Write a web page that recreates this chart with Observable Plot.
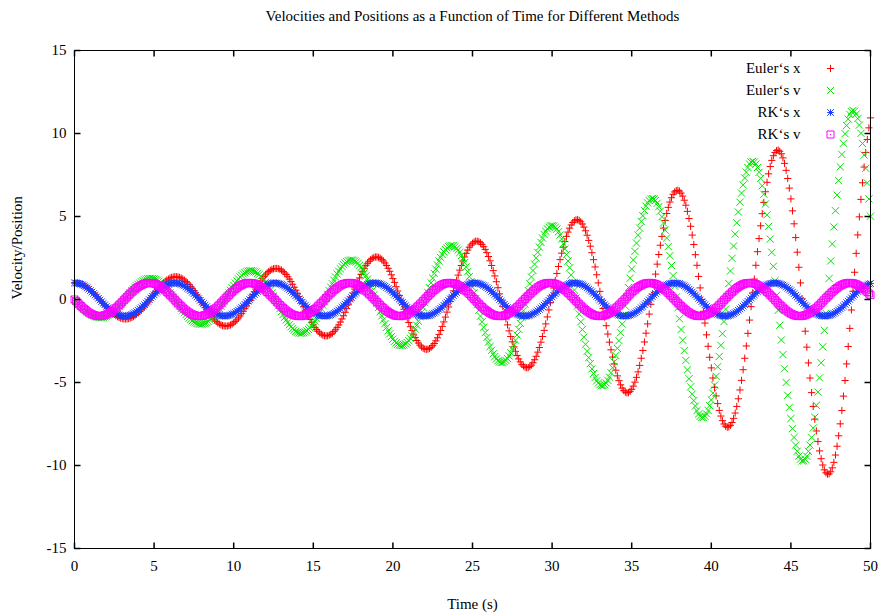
<!DOCTYPE html>
<html>
<head>
<meta charset="utf-8">
<script src="https://cdn.jsdelivr.net/npm/d3@7"></script>
<script src="https://cdn.jsdelivr.net/npm/@observablehq/plot@0.6"></script>
<style>
html, body { margin: 0; padding: 0; background: #ffffff; }
#chart svg { display: block; }
</style>
</head>
<body>
<div id="chart"></div>
<script>
// ---------- text ----------
const chartTitle = "Velocities and Positions as a Function of Time for Different Methods";
const xLabel = "Time (s)";
const yLabel = "Velocity/Position";
const seriesNames = ["Euler‘s x", "Euler‘s v", "RK‘s x", "RK‘s v"];

// ---------- ticks ----------
const xTicks = [0, 5, 10, 15, 20, 25, 30, 35, 40, 45, 50];
const yTicks = [-15, -10, -5, 0, 5, 10, 15];

// ---------- sampling ----------
const timeStep = 0.1; // s, one sample every 0.1 s from t = 0 to t = 50

// ---------- Euler's x ----------
const eulerX = [
1.00, 1.00, 0.99, 0.97, 0.94, 0.90, 0.85, 0.79, 0.73, 0.65,
0.57, 0.48, 0.39, 0.29, 0.19, 0.08, -0.03, -0.13, -0.24, -0.35,
-0.45, -0.55, -0.65, -0.74, -0.83, -0.90, -0.97, -1.03, -1.08, -1.12,
-1.15, -1.17, -1.17, -1.17, -1.15, -1.12, -1.08, -1.03, -0.97, -0.89,
-0.81, -0.72, -0.62, -0.51, -0.40, -0.28, -0.16, -0.04, 0.09, 0.22,
0.34, 0.47, 0.59, 0.70, 0.81, 0.92, 1.01, 1.10, 1.17, 1.23,
1.29, 1.33, 1.35, 1.37, 1.37, 1.36, 1.33, 1.29, 1.24, 1.17,
1.09, 1.00, 0.90, 0.79, 0.67, 0.54, 0.40, 0.26, 0.12, -0.03,
-0.18, -0.33, -0.47, -0.61, -0.75, -0.88, -1.01, -1.12, -1.23, -1.32,
-1.41, -1.48, -1.53, -1.57, -1.59, -1.60, -1.60, -1.57, -1.53, -1.48,
-1.41, -1.32, -1.23, -1.11, -0.99, -0.85, -0.71, -0.55, -0.39, -0.23,
-0.06, 0.12, 0.29, 0.46, 0.63, 0.80, 0.96, 1.11, 1.25, 1.38,
1.49, 1.60, 1.69, 1.76, 1.81, 1.85, 1.87, 1.87, 1.86, 1.82,
1.77, 1.69, 1.60, 1.50, 1.37, 1.23, 1.08, 0.92, 0.74, 0.56,
0.37, 0.17, -0.03, -0.24, -0.44, -0.64, -0.83, -1.02, -1.20, -1.37,
-1.53, -1.68, -1.81, -1.92, -2.02, -2.09, -2.15, -2.18, -2.19, -2.19,
-2.15, -2.10, -2.03, -1.93, -1.82, -1.68, -1.53, -1.36, -1.17, -0.98,
-0.77, -0.55, -0.32, -0.08, 0.15, 0.39, 0.63, 0.86, 1.08, 1.30,
1.51, 1.70, 1.88, 2.04, 2.18, 2.30, 2.40, 2.48, 2.53, 2.56,
2.56, 2.54, 2.49, 2.42, 2.32, 2.20, 2.05, 1.88, 1.70, 1.49,
1.26, 1.03, 0.77, 0.51, 0.24, -0.03, -0.31, -0.59, -0.86, -1.13,
-1.39, -1.64, -1.87, -2.09, -2.29, -2.47, -2.62, -2.75, -2.86, -2.94,
-2.98, -3.00, -2.99, -2.95, -2.88, -2.78, -2.65, -2.49, -2.31, -2.10,
-1.87, -1.62, -1.35, -1.06, -0.76, -0.45, -0.13, 0.20, 0.52, 0.84,
1.16, 1.47, 1.77, 2.05, 2.32, 2.56, 2.78, 2.98, 3.15, 3.28,
3.39, 3.47, 3.51, 3.51, 3.48, 3.42, 3.32, 3.18, 3.02, 2.82,
2.59, 2.33, 2.05, 1.74, 1.42, 1.07, 0.71, 0.34, -0.03, -0.41,
-0.79, -1.17, -1.53, -1.89, -2.23, -2.55, -2.85, -3.12, -3.37, -3.58,
-3.76, -3.91, -4.01, -4.08, -4.11, -4.10, -4.04, -3.95, -3.81, -3.63,
-3.42, -3.17, -2.89, -2.57, -2.23, -1.86, -1.47, -1.05, -0.63, -0.19,
0.25, 0.69, 1.14, 1.57, 1.99, 2.40, 2.79, 3.15, 3.49, 3.80,
4.06, 4.30, 4.49, 4.64, 4.74, 4.80, 4.80, 4.77, 4.68, 4.55,
4.36, 4.14, 3.87, 3.56, 3.21, 2.82, 2.40, 1.96, 1.49, 1.00,
0.49, -0.02, -0.54, -1.06, -1.58, -2.08, -2.57, -3.03, -3.47, -3.88,
-4.26, -4.60, -4.89, -5.14, -5.34, -5.49, -5.58, -5.62, -5.61, -5.53,
-5.41, -5.22, -4.98, -4.69, -4.36, -3.97, -3.54, -3.07, -2.56, -2.03,
-1.47, -0.88, -0.29, 0.32, 0.93, 1.53, 2.13, 2.71, 3.27, 3.80,
4.30, 4.76, 5.18, 5.55, 5.87, 6.13, 6.34, 6.48, 6.56, 6.58,
6.53, 6.41, 6.23, 5.98, 5.68, 5.31, 4.88, 4.41, 3.88, 3.31,
2.70, 2.06, 1.39, 0.70, 0.00, -0.71, -1.42, -2.13, -2.82, -3.48,
-4.12, -4.73, -5.29, -5.81, -6.27, -6.68, -7.02, -7.30, -7.50, -7.63,
-7.69, -7.67, -7.58, -7.41, -7.16, -6.84, -6.44, -5.98, -5.45, -4.87,
-4.23, -3.54, -2.80, -2.04, -1.24, -0.43, 0.40, 1.23, 2.06, 2.88,
3.67, 4.44, 5.17, 5.85, 6.49, 7.06, 7.57, 8.01, 8.38, 8.66,
8.86, 8.97, 9.00, 8.93, 8.78, 8.53, 8.20, 7.78, 7.29, 6.71,
6.06, 5.34, 4.56, 3.73, 2.85, 1.94, 1.00, 0.04, -0.94, -1.91,
-2.87, -3.82, -4.73, -5.61, -6.44, -7.21, -7.92, -8.56, -9.12, -9.59,
-9.97, -10.26, -10.44, -10.52, -10.50, -10.38, -10.14, -9.81, -9.37, -8.84,
-8.21, -7.49, -6.69, -5.82, -4.88, -3.88, -2.83, -1.74, -0.63, 0.50,
1.64, 2.78, 3.89, 4.98, 6.03, 7.03, 7.98, 8.85, 9.64, 10.34,
10.94
];

// ---------- Euler's v ----------
const eulerV = [
0.00, -0.10, -0.20, -0.30, -0.40, -0.49, -0.58, -0.67, -0.74, -0.82,
-0.88, -0.94, -0.99, -1.03, -1.06, -1.07, -1.08, -1.08, -1.07, -1.04,
-1.01, -0.96, -0.91, -0.84, -0.77, -0.69, -0.60, -0.50, -0.40, -0.29,
-0.18, -0.06, 0.06, 0.17, 0.29, 0.40, 0.52, 0.62, 0.73, 0.82,
0.91, 0.99, 1.07, 1.13, 1.18, 1.22, 1.25, 1.26, 1.27, 1.26,
1.24, 1.20, 1.16, 1.10, 1.03, 0.94, 0.85, 0.75, 0.64, 0.53,
0.40, 0.27, 0.14, 0.01, -0.13, -0.27, -0.40, -0.54, -0.67, -0.79,
-0.91, -1.02, -1.12, -1.21, -1.28, -1.35, -1.40, -1.44, -1.47, -1.48,
-1.48, -1.46, -1.43, -1.38, -1.32, -1.24, -1.16, -1.06, -0.94, -0.82,
-0.69, -0.55, -0.40, -0.25, -0.09, 0.07, 0.23, 0.39, 0.55, 0.70,
0.85, 0.99, 1.12, 1.24, 1.36, 1.46, 1.54, 1.61, 1.67, 1.71,
1.73, 1.73, 1.72, 1.69, 1.65, 1.58, 1.50, 1.41, 1.30, 1.17,
1.04, 0.89, 0.73, 0.56, 0.38, 0.20, 0.01, -0.17, -0.36, -0.55,
-0.73, -0.90, -1.07, -1.23, -1.38, -1.52, -1.64, -1.75, -1.84, -1.92,
-1.97, -2.01, -2.03, -2.02, -2.00, -1.96, -1.89, -1.81, -1.71, -1.59,
-1.45, -1.30, -1.13, -0.95, -0.76, -0.55, -0.34, -0.13, 0.09, 0.31,
0.53, 0.74, 0.95, 1.15, 1.35, 1.53, 1.70, 1.85, 1.99, 2.10,
2.20, 2.28, 2.33, 2.36, 2.37, 2.36, 2.32, 2.26, 2.17, 2.06,
1.93, 1.78, 1.61, 1.42, 1.22, 1.00, 0.77, 0.53, 0.28, 0.03,
-0.23, -0.48, -0.74, -0.99, -1.23, -1.46, -1.68, -1.89, -2.07, -2.24,
-2.39, -2.52, -2.62, -2.70, -2.75, -2.77, -2.77, -2.74, -2.68, -2.59,
-2.48, -2.34, -2.18, -1.99, -1.78, -1.55, -1.31, -1.04, -0.77, -0.48,
-0.19, 0.11, 0.41, 0.71, 1.00, 1.29, 1.57, 1.83, 2.08, 2.31,
2.53, 2.71, 2.87, 3.01, 3.11, 3.19, 3.23, 3.25, 3.23, 3.18,
3.09, 2.98, 2.83, 2.65, 2.45, 2.22, 1.96, 1.68, 1.38, 1.07,
0.74, 0.40, 0.05, -0.30, -0.65, -1.00, -1.34, -1.67, -1.99, -2.29,
-2.57, -2.83, -3.06, -3.27, -3.44, -3.58, -3.69, -3.76, -3.80, -3.79,
-3.75, -3.67, -3.56, -3.40, -3.21, -2.99, -2.74, -2.45, -2.14, -1.80,
-1.44, -1.07, -0.68, -0.28, 0.13, 0.54, 0.95, 1.36, 1.75, 2.13,
2.50, 2.84, 3.16, 3.44, 3.70, 3.92, 4.11, 4.26, 4.36, 4.43,
4.44, 4.42, 4.35, 4.24, 4.08, 3.88, 3.64, 3.36, 3.04, 2.70,
2.32, 1.91, 1.48, 1.03, 0.57, 0.09, -0.39, -0.87, -1.34, -1.81,
-2.27, -2.70, -3.12, -3.50, -3.86, -4.18, -4.46, -4.70, -4.90, -5.04,
-5.14, -5.19, -5.19, -5.14, -5.03, -4.87, -4.67, -4.41, -4.11, -3.76,
-3.37, -2.94, -2.48, -2.00, -1.48, -0.95, -0.40, 0.16, 0.72, 1.28,
1.84, 2.38, 2.90, 3.40, 3.87, 4.30, 4.70, 5.05, 5.36, 5.62,
5.82, 5.96, 6.05, 6.08, 6.05, 5.96, 5.80, 5.59, 5.32, 4.99,
4.61, 4.18, 3.71, 3.19, 2.64, 2.05, 1.44, 0.80, 0.15, -0.50,
-1.16, -1.81, -2.45, -3.08, -3.67, -4.24, -4.77, -5.26, -5.70, -6.09,
-6.42, -6.69, -6.90, -7.04, -7.11, -7.11, -7.03, -6.89, -6.68, -6.40,
-6.05, -5.64, -5.16, -4.63, -4.05, -3.43, -2.76, -2.06, -1.33, -0.58,
0.19, 0.96, 1.72, 2.48, 3.22, 3.94, 4.62, 5.27, 5.86, 6.41,
6.90, 7.32, 7.67, 7.95, 8.16, 8.28, 8.32, 8.28, 8.16, 7.95,
7.66, 7.30, 6.85, 6.34, 5.75, 5.10, 4.40, 3.64, 2.84, 2.00,
1.13, 0.25, -0.65, -1.55, -2.44, -3.32, -4.17, -5.00, -5.77, -6.50,
-7.17, -7.78, -8.31, -8.77, -9.14, -9.43, -9.62, -9.72, -9.72, -9.63,
-9.44, -9.15, -8.77, -8.30, -7.74, -7.09, -6.37, -5.58, -4.72, -3.81,
-2.85, -1.86, -0.83, 0.21, 1.27, 2.32, 3.35, 4.37, 5.35, 6.29,
7.17, 7.99, 8.74, 9.41, 9.99, 10.48, 10.87, 11.15, 11.32, 11.39,
11.34, 11.17, 10.90, 10.51, 10.01, 9.40, 8.70, 7.90, 7.02, 6.06,
5.02
];

// ---------- RK's x ----------
const rkX = [
1.00, 0.99, 0.98, 0.96, 0.92, 0.88, 0.83, 0.76, 0.70, 0.62, 0.54, 0.45, 0.36, 0.27, 0.17, 0.07, -0.03, -0.13, -0.23, -0.32, -0.42,
-0.50, -0.59, -0.67, -0.74, -0.80, -0.86, -0.90, -0.94, -0.97, -0.99, -1.00, -1.00, -0.99, -0.97, -0.94, -0.90, -0.85, -0.79, -0.73, -0.65, -0.57,
-0.49, -0.40, -0.31, -0.21, -0.11, -0.01, 0.09, 0.19, 0.28, 0.38, 0.47, 0.55, 0.63, 0.71, 0.78, 0.83, 0.89, 0.93, 0.96, 0.98, 1.00,
1.00, 0.99, 0.98, 0.95, 0.91, 0.87, 0.82, 0.75, 0.68, 0.61, 0.53, 0.44, 0.35, 0.25, 0.15, 0.05, -0.05, -0.15, -0.24, -0.34, -0.43,
-0.52, -0.60, -0.68, -0.75, -0.81, -0.87, -0.91, -0.95, -0.98, -0.99, -1.00, -1.00, -0.98, -0.96, -0.93, -0.89, -0.84, -0.78, -0.71, -0.64, -0.56,
-0.48, -0.39, -0.29, -0.19, -0.10, 0.00, 0.10, 0.20, 0.30, 0.39, 0.48, 0.57, 0.65, 0.72, 0.79, 0.84, 0.89, 0.93, 0.96, 0.99, 1.00,
1.00, 0.99, 0.97, 0.94, 0.91, 0.86, 0.81, 0.74, 0.67, 0.60, 0.51, 0.42, 0.33, 0.23, 0.14, 0.04, -0.06, -0.16, -0.26, -0.35, -0.45,
-0.53, -0.62, -0.69, -0.76, -0.82, -0.87, -0.92, -0.95, -0.98, -0.99, -1.00, -1.00, -0.98, -0.96, -0.92, -0.88, -0.83, -0.77, -0.70, -0.63, -0.55,
-0.46, -0.37, -0.28, -0.18, -0.08, 0.02, 0.12, 0.22, 0.32, 0.41, 0.50, 0.58, 0.66, 0.73, 0.80, 0.85, 0.90, 0.94, 0.97, 0.99, 1.00,
1.00, 0.99, 0.97, 0.94, 0.90, 0.85, 0.80, 0.73, 0.66, 0.58, 0.50, 0.41, 0.31, 0.22, 0.12, 0.02, -0.08, -0.18, -0.28, -0.37, -0.46,
-0.55, -0.63, -0.70, -0.77, -0.83, -0.88, -0.92, -0.96, -0.98, -1.00, -1.00, -0.99, -0.98, -0.95, -0.92, -0.87, -0.82, -0.76, -0.69, -0.61, -0.53,
-0.45, -0.35, -0.26, -0.16, -0.06, 0.04, 0.14, 0.24, 0.33, 0.42, 0.51, 0.60, 0.67, 0.74, 0.81, 0.86, 0.91, 0.95, 0.97, 0.99, 1.00,
1.00, 0.99, 0.96, 0.93, 0.89, 0.84, 0.79, 0.72, 0.65, 0.57, 0.48, 0.39, 0.30, 0.20, 0.10, 0.00, -0.10, -0.20, -0.29, -0.39, -0.48,
-0.56, -0.64, -0.71, -0.78, -0.84, -0.89, -0.93, -0.96, -0.98, -1.00, -1.00, -0.99, -0.97, -0.95, -0.91, -0.87, -0.81, -0.75, -0.68, -0.60, -0.52,
-0.43, -0.34, -0.24, -0.14, -0.05, 0.05, 0.15, 0.25, 0.35, 0.44, 0.53, 0.61, 0.69, 0.75, 0.82, 0.87, 0.91, 0.95, 0.98, 0.99, 1.00,
1.00, 0.98, 0.96, 0.93, 0.89, 0.83, 0.78, 0.71, 0.63, 0.55, 0.47, 0.38, 0.28, 0.19, 0.09, -0.01, -0.11, -0.21, -0.31, -0.40, -0.49,
-0.58, -0.65, -0.73, -0.79, -0.85, -0.90, -0.94, -0.97, -0.99, -1.00, -1.00, -0.99, -0.97, -0.94, -0.90, -0.86, -0.80, -0.74, -0.67, -0.59, -0.50,
-0.42, -0.32, -0.23, -0.13, -0.03, 0.07, 0.17, 0.27, 0.36, 0.45, 0.54, 0.62, 0.70, 0.77, 0.83, 0.88, 0.92, 0.96, 0.98, 1.00, 1.00,
0.99, 0.98, 0.96, 0.92, 0.88, 0.83, 0.76, 0.70, 0.62, 0.54, 0.45, 0.36, 0.27, 0.17, 0.07, -0.03, -0.13, -0.23, -0.32, -0.42, -0.50,
-0.59, -0.67, -0.74, -0.80, -0.86, -0.90, -0.94, -0.97, -0.99, -1.00, -1.00, -0.99, -0.97, -0.94, -0.90, -0.85, -0.79, -0.73, -0.65, -0.57, -0.49,
-0.40, -0.31, -0.21, -0.11, -0.01, 0.09, 0.19, 0.28, 0.38, 0.47, 0.55, 0.63, 0.71, 0.78, 0.83, 0.89, 0.93, 0.96, 0.98, 1.00, 1.00,
0.99, 0.98, 0.95, 0.91, 0.87, 0.82, 0.75, 0.68, 0.61, 0.53, 0.44, 0.35, 0.25, 0.15, 0.05, -0.05, -0.15, -0.24, -0.34, -0.43,
-0.52, -0.60, -0.68, -0.75, -0.81, -0.87, -0.91, -0.95, -0.98, -0.99, -1.00, -1.00, -0.98, -0.96, -0.93, -0.89, -0.84, -0.78, -0.71, -0.64,
-0.56, -0.48, -0.39, -0.29, -0.19, -0.10, 0.00, 0.10, 0.20, 0.30, 0.39, 0.48, 0.57, 0.65, 0.72, 0.79, 0.84, 0.89, 0.93, 0.96
];

// ---------- RK's v ----------
const rkV = [
0.00, -0.10, -0.20, -0.30, -0.39, -0.48, -0.56, -0.64, -0.72, -0.78, -0.84, -0.89, -0.93, -0.96, -0.99, -1.00, -1.00, -0.99, -0.97, -0.95, -0.91,
-0.86, -0.81, -0.75, -0.68, -0.60, -0.52, -0.43, -0.34, -0.24, -0.14, -0.04, 0.06, 0.16, 0.26, 0.35, 0.44, 0.53, 0.61, 0.69, 0.76, 0.82,
0.87, 0.92, 0.95, 0.98, 0.99, 1.00, 1.00, 0.98, 0.96, 0.93, 0.88, 0.83, 0.77, 0.71, 0.63, 0.55, 0.46, 0.37, 0.28, 0.18, 0.08,
-0.02, -0.12, -0.22, -0.31, -0.40, -0.49, -0.58, -0.66, -0.73, -0.79, -0.85, -0.90, -0.94, -0.97, -0.99, -1.00, -1.00, -0.99, -0.97, -0.94, -0.90,
-0.85, -0.80, -0.73, -0.66, -0.59, -0.50, -0.41, -0.32, -0.22, -0.12, -0.02, 0.08, 0.17, 0.27, 0.37, 0.46, 0.54, 0.63, 0.70, 0.77, 0.83,
0.88, 0.92, 0.96, 0.98, 1.00, 1.00, 0.99, 0.98, 0.95, 0.92, 0.88, 0.82, 0.76, 0.69, 0.62, 0.54, 0.45, 0.36, 0.26, 0.17, 0.07,
-0.03, -0.13, -0.23, -0.33, -0.42, -0.51, -0.59, -0.67, -0.74, -0.80, -0.86, -0.91, -0.94, -0.97, -0.99, -1.00, -1.00, -0.99, -0.97, -0.93, -0.89,
-0.85, -0.79, -0.72, -0.65, -0.57, -0.49, -0.40, -0.30, -0.21, -0.11, -0.01, 0.09, 0.19, 0.29, 0.38, 0.47, 0.56, 0.64, 0.71, 0.78, 0.84,
0.89, 0.93, 0.96, 0.98, 1.00, 1.00, 0.99, 0.98, 0.95, 0.91, 0.87, 0.81, 0.75, 0.68, 0.60, 0.52, 0.43, 0.34, 0.25, 0.15, 0.05,
-0.05, -0.15, -0.25, -0.34, -0.44, -0.52, -0.61, -0.68, -0.75, -0.81, -0.87, -0.91, -0.95, -0.98, -0.99, -1.00, -1.00, -0.98, -0.96, -0.93, -0.89,
-0.84, -0.78, -0.71, -0.64, -0.56, -0.47, -0.38, -0.29, -0.19, -0.09, 0.01, 0.11, 0.21, 0.30, 0.40, 0.49, 0.57, 0.65, 0.72, 0.79, 0.85,
0.90, 0.94, 0.97, 0.99, 1.00, 1.00, 0.99, 0.97, 0.94, 0.91, 0.86, 0.80, 0.74, 0.67, 0.59, 0.51, 0.42, 0.33, 0.23, 0.13, 0.03,
-0.07, -0.17, -0.26, -0.36, -0.45, -0.54, -0.62, -0.69, -0.76, -0.82, -0.88, -0.92, -0.95, -0.98, -0.99, -1.00, -1.00, -0.98, -0.96, -0.92, -0.88,
-0.83, -0.77, -0.70, -0.62, -0.54, -0.46, -0.37, -0.27, -0.17, -0.07, 0.03, 0.13, 0.22, 0.32, 0.41, 0.50, 0.59, 0.66, 0.74, 0.80, 0.86,
0.90, 0.94, 0.97, 0.99, 1.00, 1.00, 0.99, 0.97, 0.94, 0.90, 0.85, 0.79, 0.73, 0.66, 0.58, 0.49, 0.40, 0.31, 0.21, 0.12, 0.02,
-0.08, -0.18, -0.28, -0.37, -0.47, -0.55, -0.63, -0.71, -0.77, -0.83, -0.88, -0.93, -0.96, -0.98, -1.00, -1.00, -0.99, -0.98, -0.95, -0.92, -0.87,
-0.82, -0.76, -0.69, -0.61, -0.53, -0.44, -0.35, -0.25, -0.16, -0.06, 0.04, 0.14, 0.24, 0.34, 0.43, 0.52, 0.60, 0.68, 0.75, 0.81, 0.86,
0.91, 0.95, 0.97, 0.99, 1.00, 1.00, 0.99, 0.96, 0.93, 0.89, 0.84, 0.78, 0.72, 0.64, 0.56, 0.48, 0.39, 0.29, 0.20, 0.10, 0.00,
-0.10, -0.20, -0.30, -0.39, -0.48, -0.56, -0.64, -0.72, -0.78, -0.84, -0.89, -0.93, -0.96, -0.99, -1.00, -1.00, -0.99, -0.97, -0.95, -0.91, -0.86,
-0.81, -0.75, -0.68, -0.60, -0.52, -0.43, -0.34, -0.24, -0.14, -0.04, 0.06, 0.16, 0.26, 0.35, 0.44, 0.53, 0.61, 0.69, 0.76, 0.82, 0.87,
0.92, 0.95, 0.98, 0.99, 1.00, 1.00, 0.98, 0.96, 0.93, 0.88, 0.83, 0.77, 0.71, 0.63, 0.55, 0.46, 0.37, 0.28, 0.18, 0.08, -0.02,
-0.12, -0.22, -0.31, -0.40, -0.49, -0.58, -0.66, -0.73, -0.79, -0.85, -0.90, -0.94, -0.97, -0.99, -1.00, -1.00, -0.99, -0.97, -0.94, -0.90,
-0.85, -0.80, -0.73, -0.66, -0.59, -0.50, -0.41, -0.32, -0.22, -0.12, -0.02, 0.08, 0.17, 0.27, 0.37, 0.46, 0.54, 0.63, 0.70, 0.77,
0.83, 0.88, 0.92, 0.96, 0.98, 1.00, 1.00, 0.99, 0.98, 0.95, 0.92, 0.88, 0.82, 0.76, 0.69, 0.62, 0.54, 0.45, 0.36, 0.26
];

// ---------- point shapes (gnuplot style) ----------
const half = (size) => Math.sqrt(size / Math.PI);
const plusShape = { draw(c, size) { const r = half(size); c.moveTo(-r, 0); c.lineTo(r, 0); c.moveTo(0, -r); c.lineTo(0, r); } };
const timesShape = { draw(c, size) { const r = half(size); c.moveTo(-r, -r); c.lineTo(r, r); c.moveTo(-r, r); c.lineTo(r, -r); } };
const starShape = { draw(c, size) { const r = half(size); c.moveTo(-r, 0); c.lineTo(r, 0); c.moveTo(0, -r); c.lineTo(0, r);
  c.moveTo(-r, -r); c.lineTo(r, r); c.moveTo(-r, r); c.lineTo(r, -r); } };
const boxShape = { draw(c, size) { const r = half(size); c.moveTo(-r, -r); c.lineTo(r, -r); c.lineTo(r, r); c.lineTo(-r, r); c.closePath();
  c.moveTo(-0.5, 0); c.lineTo(0.5, 0); } };
const tickShape = (dx, dy) => ({ draw(c) { c.moveTo(0, 0); c.lineTo(dx, dy); } });

const seriesValues = [eulerX, eulerV, rkX, rkV];
const seriesStyle = [
  { symbol: plusShape, color: "#ff0000", r: 3.6 },
  { symbol: timesShape, color: "#00e600", r: 3.6 },
  { symbol: starShape, color: "#1a3cff", r: 3.3 },
  { symbol: boxShape, color: "#ff00ff", r: 3.5 }
];

const font = "'Liberation Serif', 'Times New Roman', serif";
const fs = 15;
const tickLen = 6;
const txt = { fontSize: fs, fontFamily: font, fill: "black", lineAnchor: "middle" };

const marks = [];
seriesValues.forEach((vals, s) => {
  const rows = vals.map((v, i) => ({ t: i * timeStep, v }));
  const st = seriesStyle[s];
  marks.push(Plot.dot(rows, { x: "t", y: "v", symbol: st.symbol, r: st.r, stroke: st.color, fill: "none", strokeWidth: 1 }));
});

// frame and inward ticks on all four sides
marks.push(Plot.frame({ stroke: "black", strokeWidth: 1 }));
marks.push(Plot.dot(xTicks, { x: d => d, frameAnchor: "bottom", symbol: tickShape(0, -tickLen), stroke: "black", fill: "none" }));
marks.push(Plot.dot(xTicks, { x: d => d, frameAnchor: "top", symbol: tickShape(0, tickLen), stroke: "black", fill: "none" }));
marks.push(Plot.dot(yTicks, { y: d => d, frameAnchor: "left", symbol: tickShape(tickLen, 0), stroke: "black", fill: "none" }));
marks.push(Plot.dot(yTicks, { y: d => d, frameAnchor: "right", symbol: tickShape(-tickLen, 0), stroke: "black", fill: "none" }));

// tick labels
marks.push(Plot.text(xTicks, { x: d => d, frameAnchor: "bottom", dy: 18, text: d => String(d), ...txt }));
marks.push(Plot.text(yTicks, { y: d => d, frameAnchor: "left", dx: -8, textAnchor: "end", text: d => String(d), ...txt }));

// axis titles and chart title
marks.push(Plot.text([xLabel], { frameAnchor: "bottom", dy: 56, text: d => d, ...txt }));
marks.push(Plot.text([yLabel], { frameAnchor: "left", dx: -57, rotate: -90, text: d => d, ...txt }));
marks.push(Plot.text([chartTitle], { frameAnchor: "top", dy: -34, text: d => d, ...txt }));

// legend (top right, inside the frame)
seriesNames.forEach((name, i) => {
  const st = seriesStyle[i];
  marks.push(Plot.text([name], { frameAnchor: "top-right", dx: -70, dy: 18 + 22 * i, textAnchor: "end", text: d => d, ...txt }));
  marks.push(Plot.dot([name], { x: null, y: null, frameAnchor: "top-right", dx: -40, dy: 18 + 22 * i, symbol: st.symbol, r: st.r, stroke: st.color, fill: "none", strokeWidth: 1 }));
});

const chart = Plot.plot({
  width: 879,
  height: 616,
  marginLeft: 74,
  marginRight: 9,
  marginTop: 50,
  marginBottom: 68,
  style: { background: "#ffffff", fontFamily: font, fontSize: fs + "px" },
  x: { domain: [0, 50], axis: null },
  y: { domain: [-15, 15], axis: null },
  marks
});
document.getElementById("chart").appendChild(chart);
</script>
</body>
</html>
